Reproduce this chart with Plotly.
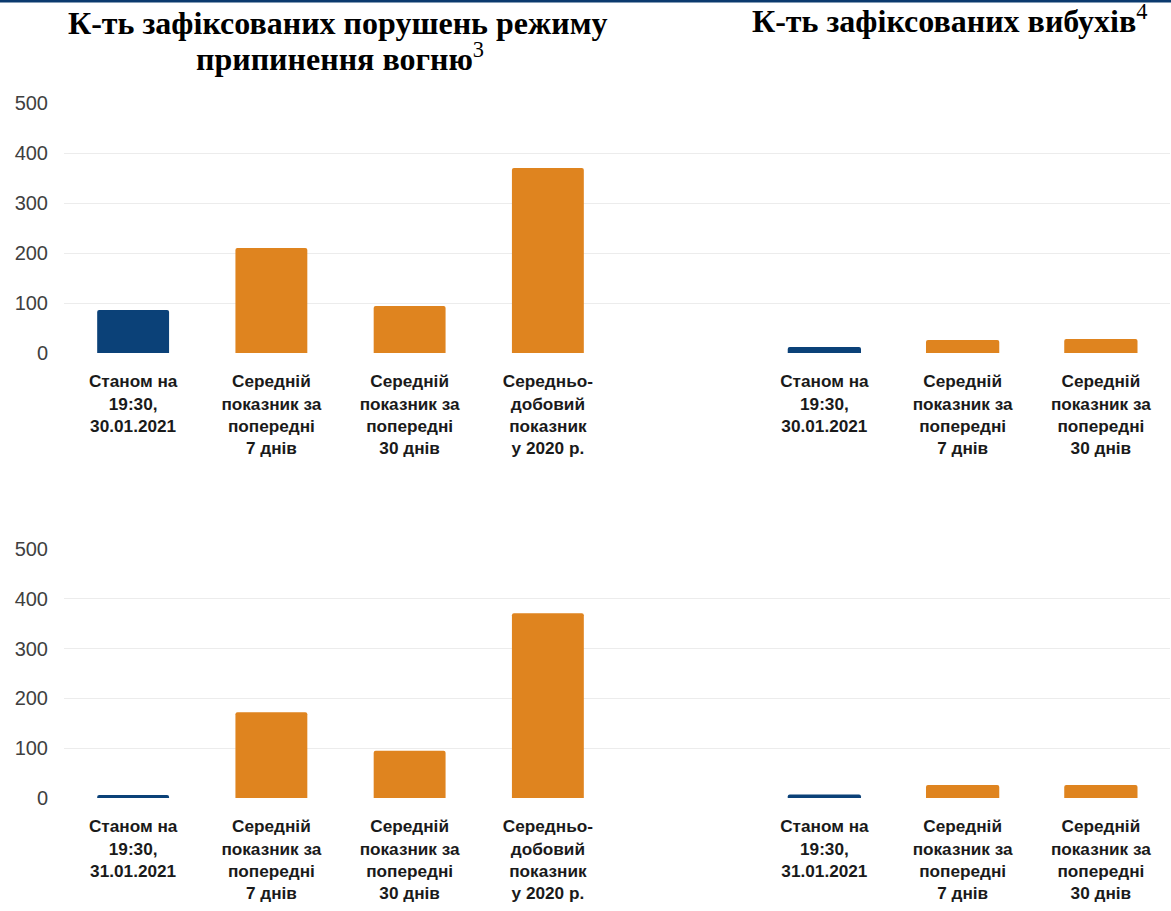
import plotly.graph_objects as go

# ---- data ----
left_labels_30 = ["Станом на<br>19:30,<br>30.01.2021",
                  "Середній<br>показник за<br>попередні<br>7 днів",
                  "Середній<br>показник за<br>попередні<br>30 днів",
                  "Середньо-<br>добовий<br>показник<br>у 2020 р."]
right_labels_30 = ["Станом на<br>19:30,<br>30.01.2021",
                   "Середній<br>показник за<br>попередні<br>7 днів",
                   "Середній<br>показник за<br>попередні<br>30 днів"]
left_labels_31 = ["Станом на<br>19:30,<br>31.01.2021",
                  "Середній<br>показник за<br>попередні<br>7 днів",
                  "Середній<br>показник за<br>попередні<br>30 днів",
                  "Середньо-<br>добовий<br>показник<br>у 2020 р."]
right_labels_31 = ["Станом на<br>19:30,<br>31.01.2021",
                   "Середній<br>показник за<br>попередні<br>7 днів",
                   "Середній<br>показник за<br>попередні<br>30 днів"]

violations_30 = [86, 210, 94, 370]
explosions_30 = [12, 26, 28]
violations_31 = [6, 172, 95, 371]
explosions_31 = [7, 26, 26]

y_ticks = [0, 100, 200, 300, 400, 500]

title_left_line1 = "К-ть зафіксованих порушень режиму"
title_left_line2 = "припинення вогню<sup><span style='font-weight:normal'>3</span></sup>"
title_right = "К-ть зафіксованих вибухів<sup><span style='font-weight:normal'>4</span></sup>"

BLUE = "#0B4178"
ORANGE = "#DF841F"

# positions: left group, one empty slot, right group
n_left = len(violations_30)
left_x = list(range(n_left))
right_x = [n_left + 1 + i for i in range(len(explosions_30))]

fig = go.Figure()


def colors(n):
    return [BLUE] + [ORANGE] * (n - 1)


for vals_l, vals_r, xa, ya in [(violations_30, explosions_30, "x", "y"),
                               (violations_31, explosions_31, "x2", "y2")]:
    fig.add_trace(go.Bar(x=left_x, y=vals_l, marker=dict(color=colors(len(vals_l)), line=dict(width=0)),
                         width=0.52, xaxis=xa, yaxis=ya, showlegend=False, hoverinfo="y"))
    fig.add_trace(go.Bar(x=right_x, y=vals_r, marker=dict(color=colors(len(vals_r)), line=dict(width=0)),
                         width=0.53, xaxis=xa, yaxis=ya, showlegend=False, hoverinfo="y"))

W, H = 1171, 911
ML, MR = 64, 1


def ydom(px_zero, px_top):
    return [(H - px_zero) / H, (H - px_top) / H]


def px_x(px):
    return (px - ML) / (W - ML - MR)


def px_y(px):
    return 1 - px / H


xcommon = dict(range=[-0.5, 7.5], showgrid=False, zeroline=False, showline=False, ticks="",
               tickmode="array", tickangle=0, automargin=False,
               tickfont=dict(family="Liberation Sans, Arial", size=17.2, color="#1a1a1a", weight="bold"),
               ticklabelstandoff=16)
ycommon = dict(range=[0, 500], tickvals=y_ticks, showgrid=True, gridcolor="#ececec", gridwidth=1,
               zeroline=False, showline=False, ticks="", automargin=False,
               tickfont=dict(family="Liberation Sans, Arial", size=20, color="#404040"),
               ticklabelstandoff=15)

fig.update_layout(
    width=W, height=H,
    autosize=False,
    margin=dict(l=ML, r=MR, t=0, b=0, pad=0),
    paper_bgcolor="white", plot_bgcolor="white",
    bargap=0.2,
    barcornerradius=2,
    xaxis=dict(domain=[0, 1], anchor="y", tickvals=left_x + right_x,
               ticktext=left_labels_30 + right_labels_30, **xcommon),
    yaxis=dict(domain=ydom(353, 103), anchor="x", **ycommon),
    xaxis2=dict(domain=[0, 1], anchor="y2", tickvals=left_x + right_x,
                ticktext=left_labels_31 + right_labels_31, **xcommon),
    yaxis2=dict(domain=ydom(798, 549), anchor="x2", **ycommon),
)

title_font = dict(family="Liberation Serif, Times New Roman", size=32, color="#000000", weight="bold")

# chart titles
fig.add_annotation(text=title_left_line1, xref="paper", yref="paper",
                   x=px_x(337), y=px_y(23), xanchor="center", yanchor="middle",
                   showarrow=False, font=title_font)
fig.add_annotation(text=title_left_line2, xref="paper", yref="paper",
                   x=px_x(340), y=px_y(57), xanchor="center", yanchor="middle",
                   showarrow=False, font=title_font)
fig.add_annotation(text=title_right, xref="paper", yref="paper",
                   x=px_x(949), y=px_y(19), xanchor="center", yanchor="middle",
                   showarrow=False, font=title_font)

# thin navy rule at the very top of the page
fig.add_shape(type="line", xref="paper", yref="paper", x0=px_x(0), x1=px_x(W),
              y0=px_y(1), y1=px_y(1), line=dict(color="#0B3A6E", width=3))

fig.write_html("out.html", config={"displayModeBar": False},
               post_script="document.body.style.margin='0';")
